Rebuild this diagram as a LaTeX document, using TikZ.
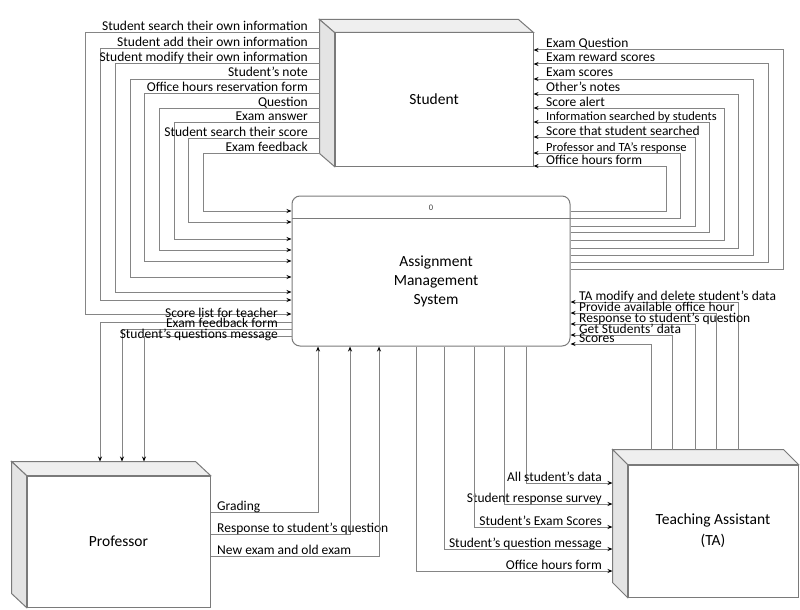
\documentclass[tikz,border=0pt]{standalone}
\usepackage{fontspec}
\setmainfont{Carlito}
\usetikzlibrary{arrows.meta,calc}
\definecolor{linegray}{HTML}{858585}
\definecolor{boxgray}{HTML}{7A7A7A}
\definecolor{sidegray}{HTML}{E4E4E4}
\definecolor{topgray}{HTML}{EFEFEF}
\tikzset{
  flow/.style={draw=linegray, line width=1pt, -{Stealth[length=5pt,width=4pt,black]}},
  lbl/.style={font=\fontsize{13.5}{15}\selectfont, inner sep=0pt},
  lbls/.style={font=\fontsize{12.5}{14}\selectfont, inner sep=0pt},
  ent/.style={draw=boxgray, line width=1pt, fill=white, font=\fontsize{15.5}{21}\selectfont, align=center, inner sep=0pt},
  face/.style={draw=boxgray, line width=1pt, fill=sidegray},
  topface/.style={draw=boxgray, line width=1pt, fill=topgray},
}
\begin{document}
\begin{tikzpicture}[x=1pt,y=-1pt]
\useasboundingbox (0,0) rectangle (800,610);

% ---------- Student ----------
\node[ent, minimum width=198pt, minimum height=133pt] (stu) at (434,99.5) {Student};
\filldraw[topface] (stu.north west) -- ++(-15,-13) -- ($(stu.north east)+(-15,-13)$) -- (stu.north east) -- cycle;
\filldraw[face] (stu.north west) -- ++(-15,-13) -- ($(stu.south west)+(-15,-13)$) -- (stu.south west) -- cycle;
\coordinate (stuL) at ($(stu.west)+(-15,0)$);

% ---------- System ----------
\node[draw=boxgray, line width=1pt, rounded corners=8pt, minimum width=278pt, minimum height=150pt, fill=white] (sys) at (431,271) {};
\draw[boxgray, line width=0.9pt] (sys.west |- 0,218) -- (sys.east |- 0,218);
\node[font=\fontsize{8.5}{9}\selectfont, text=black!75] (sysnum) at (431,208) {0};
\node[align=center, font=\fontsize{15.5}{19}\selectfont] (systxt) at (436,281) {Assignment\\Management\\System};

% ---------- Professor ----------
\node[ent, minimum width=183pt, minimum height=131pt] (prof) at (118.5,541.5) {Professor};
\filldraw[topface] (prof.north west) -- ++(-15,-14) -- ($(prof.north east)+(-15,-14)$) -- (prof.north east) -- cycle;
\filldraw[face] (prof.north west) -- ++(-15,-14) -- ($(prof.south west)+(-15,-14)$) -- (prof.south west) -- cycle;
\coordinate (profT) at ($(prof.north)+(0,-14)$);

% ---------- TA ----------
\node[ent, minimum width=170pt, minimum height=132pt] (ta) at (713,531) {Teaching Assistant\\(TA)};
\filldraw[topface] (ta.north west) -- ++(-15,-15) -- ($(ta.north east)+(-15,-15)$) -- (ta.north east) -- cycle;
\filldraw[face] (ta.north west) -- ++(-15,-15) -- ($(ta.south west)+(-15,-15)$) -- (ta.south west) -- cycle;
\coordinate (taL) at ($(ta.west)+(-15,0)$);
\coordinate (taT) at ($(ta.north)+(0,-15)$);

% ---------- Student -> System (left) ----------
\foreach \sy/\vx/\ty/\txt in {
  33/85/314/{Student search their own information},
  49/100/300/{Student add their own information},
  64/115/292/{Student modify their own information},
  79/130/277/{Student’s note},
  93/144/261/{Office hours reservation form},
  108/159/250/{Question},
  122/174/239/{Exam answer},
  138/188/222/{Student search their score},
  153/203/211/{Exam feedback}} {
  \draw[flow] (stuL |- 0,\sy) -| (\vx,\ty) -- (sys.west |- 0,\ty);
  \node[lbl, anchor=base east] (sl\sy) at (308,\sy-2) {\txt};
}

% ---------- System -> Student (right) ----------
\foreach \sy/\vx/\ty/\txt/\st in {
  211/666/166/{Office hours form}/lbl,
  218/680/153/{Professor and TA’s response}/lbls,
  226/695/137/{Score that student searched}/lbl,
  232/709/122/{Information searched by students}/lbls,
  240/724/108/{Score alert}/lbl,
  248/738/94/{Other’s notes}/lbl,
  255/753/79/{Exam scores}/lbl,
  262/768/64/{Exam reward scores}/lbl,
  269/783/50/{Exam Question}/lbl} {
  \draw[flow] (sys.east |- 0,\sy) -| (\vx,\ty) -- (stu.east |- 0,\ty);
  \node[\st, anchor=base west] (sr\sy) at (546,\ty-2) {\txt};
}

% ---------- System -> Professor ----------
\foreach \sy/\vx in {322/100, 329/122, 336/144} {
  \draw[flow] (sys.west |- 0,\sy) -| (profT -| \vx,0);
}
\node[lbl, anchor=base east] (pl1) at (278,317) {Score list for teacher};
\node[lbl, anchor=base east] (pl2) at (278,327.5) {Exam feedback form};
\node[lbl, anchor=base east] (pl3) at (278,338) {Student’s questions message};

% ---------- Professor -> System ----------
\foreach \py/\vx/\txt in {512/318/{Grading}, 534/350/{Response to student’s question}, 556/379/{New exam and old exam}} {
  \draw[flow] (prof.east |- 0,\py) -| (sys.south -| \vx,0);
  \node[lbl, anchor=base west] (po\py) at (217,\py-2) {\txt};
}

% ---------- System -> TA ----------
\foreach \vx/\ty/\txt in {526/483/{All student’s data}, 504/504/{Student response survey}, 474/527/{Student’s Exam Scores}, 444/549/{Student’s question message}, 416/571/{Office hours form}} {
  \draw[flow] (sys.south -| \vx,0) |- (taL |- 0,\ty);
  \node[lbl, anchor=base east] (ti\ty) at (602,\ty-2) {\txt};
}

% ---------- TA -> System ----------
\foreach \vx/\sy/\txt in {738/302/{TA modify and delete student’s data}, 716/313/{Provide available office hour}, 695/324/{Response to student’s question}, 672/335/{Get Students’ data}, 651/344/{Scores}} {
  \draw[flow] (taT -| \vx,0) |- (sys.east |- 0,\sy);
  \node[lbl, anchor=base west] (to\sy) at (579,\sy-2) {\txt};
}
\end{tikzpicture}
\end{document}
